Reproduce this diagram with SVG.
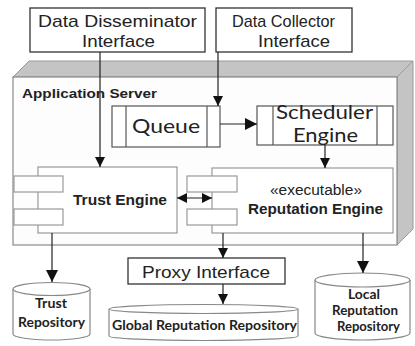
<svg xmlns="http://www.w3.org/2000/svg" width="415" height="346" viewBox="0 0 415 346">
  <defs>
    <marker id="arrow" viewBox="0 0 10 10" refX="10" refY="5" markerWidth="10" markerHeight="10" markerUnits="userSpaceOnUse" orient="auto-start-reverse">
      <path d="M0,0 L10,5 L0,10 z" fill="#111"/>
    </marker>
    <marker id="arrowL" viewBox="0 0 10 10" refX="10" refY="5" markerWidth="13" markerHeight="12" markerUnits="userSpaceOnUse" orient="auto-start-reverse">
      <path d="M0,0 L10,5 L0,10 z" fill="#111"/>
    </marker>
    <style>
      .iface { fill: #fff; stroke: #333; stroke-width: 1.3; }
      .face { fill: #c4c4c4; stroke: #9a9a9a; stroke-width: 1; }
      .front { fill: #fdfdfd; stroke: #8a8a8a; stroke-width: 1.2; }
      .queue { fill: #fff; stroke: #555; stroke-width: 1.2; }
      .comp { fill: #fff; stroke: #999; stroke-width: 1.2; }
      .cyl { fill: #fff; stroke: #888; stroke-width: 1.2; }
      .wire { fill: none; stroke: #222; stroke-width: 1.2; }
      .sans { font-family: "Liberation Sans", Arial, sans-serif; fill: #222; }
      .bold { font-family: "Liberation Sans", Arial, sans-serif; font-weight: bold; fill: #222; }
      .cal { font-family: Lato, "Open Sans", sans-serif; fill: #222; }
      .calb { font-family: Lato, "Open Sans", sans-serif; font-weight: bold; fill: #222; }
    </style>
  </defs>

  <!-- application server node (3D box) -->
  <g id="application-server">
    <polygon class="face" points="13,77 29,61 413,61 397,77"/>
    <polygon class="face" points="397,77 413,61 413,229 397,245"/>
    <rect class="front" x="13" y="77" width="384" height="168"/>
    <text class="bold" x="22" y="98" font-size="13" textLength="135" lengthAdjust="spacingAndGlyphs">Application Server</text>
  </g>

  <g id="data-disseminator-interface">
    <rect class="iface" x="30" y="8" width="175" height="44"/>
    <text class="sans" x="38" y="27" font-size="17" textLength="159" lengthAdjust="spacingAndGlyphs">Data Disseminator</text>
    <text class="sans" x="82" y="47" font-size="17" textLength="73" lengthAdjust="spacingAndGlyphs">Interface</text>
  </g>

  <g id="data-collector-interface">
    <rect class="iface" x="216" y="8" width="136" height="44"/>
    <text class="sans" x="232" y="27" font-size="17" textLength="103" lengthAdjust="spacingAndGlyphs">Data Collector</text>
    <text class="sans" x="258" y="47" font-size="17" textLength="72" lengthAdjust="spacingAndGlyphs">Interface</text>
  </g>

  <g id="queue">
    <rect class="queue" x="112" y="106" width="108" height="41"/>
    <line class="queue" x1="126" y1="106" x2="126" y2="147"/>
    <line class="queue" x1="207" y1="106" x2="207" y2="147"/>
    <text class="cal" x="132" y="133" font-size="20" textLength="68" lengthAdjust="spacingAndGlyphs">Queue</text>
  </g>

  <g id="scheduler-engine">
    <rect class="queue" x="257" y="106" width="136" height="39"/>
    <line class="queue" x1="273" y1="106" x2="273" y2="145"/>
    <line class="queue" x1="377" y1="106" x2="377" y2="145"/>
    <text class="cal" x="276" y="119" font-size="19" textLength="97" lengthAdjust="spacingAndGlyphs">Scheduler</text>
    <text class="cal" x="293" y="142" font-size="19" textLength="65" lengthAdjust="spacingAndGlyphs">Engine</text>
  </g>

  <g id="trust-engine">
    <rect class="comp" x="38" y="167" width="139" height="66"/>
    <rect class="comp" x="14" y="176" width="49" height="16"/>
    <rect class="comp" x="14" y="209" width="49" height="16"/>
    <text class="bold" x="73" y="205" font-size="15" textLength="94" lengthAdjust="spacingAndGlyphs">Trust Engine</text>
  </g>

  <g id="reputation-engine">
    <rect class="comp" x="212" y="168" width="181" height="65"/>
    <rect class="comp" x="187" y="176" width="50" height="16"/>
    <rect class="comp" x="187" y="209" width="50" height="16"/>
    <text class="sans" x="270" y="195" font-size="14" textLength="92" lengthAdjust="spacingAndGlyphs">«executable»</text>
    <text class="bold" x="248" y="214" font-size="15" textLength="135" lengthAdjust="spacingAndGlyphs">Reputation Engine</text>
  </g>

  <g id="proxy-interface">
    <rect class="iface" x="128" y="258" width="157" height="26"/>
    <text class="sans" x="142" y="278" font-size="17" textLength="128" lengthAdjust="spacingAndGlyphs">Proxy Interface</text>
  </g>

  <g id="trust-repository">
    <path class="cyl" d="M13,289 L13,334 A38.5,6 0 0 0 90,334 L90,289"/>
    <ellipse class="cyl" cx="51.5" cy="289" rx="38.5" ry="6.5"/>
    <text class="calb" x="35" y="308" font-size="14" textLength="32" lengthAdjust="spacingAndGlyphs">Trust</text>
    <text class="calb" x="18" y="327" font-size="14" textLength="67" lengthAdjust="spacingAndGlyphs">Repository</text>
  </g>

  <g id="global-reputation-repository">
    <path class="cyl" d="M109,309 L109,336 A94.5,4.5 0 0 0 298,336 L298,309"/>
    <ellipse class="cyl" cx="203.5" cy="309" rx="94.5" ry="4.5"/>
    <text class="calb" x="112" y="330" font-size="14" textLength="185" lengthAdjust="spacingAndGlyphs">Global Reputation Repository</text>
  </g>

  <g id="local-reputation-repository">
    <path class="cyl" d="M315,280 L315,333 A47.5,7 0 0 0 410,333 L410,280"/>
    <ellipse class="cyl" cx="362.5" cy="280" rx="47.5" ry="7"/>
    <text class="calb" x="348" y="299" font-size="13" textLength="32" lengthAdjust="spacingAndGlyphs">Local</text>
    <text class="calb" x="332" y="315" font-size="13" textLength="66" lengthAdjust="spacingAndGlyphs">Reputation</text>
    <text class="calb" x="337" y="331" font-size="13" textLength="63" lengthAdjust="spacingAndGlyphs">Repository</text>
  </g>

  <g id="connectors">
    <line class="wire" x1="100" y1="52" x2="100" y2="167" marker-end="url(#arrow)"/>
    <line class="wire" x1="218" y1="52" x2="218" y2="106" marker-end="url(#arrow)"/>
    <line class="wire" x1="220" y1="124" x2="257" y2="124" marker-end="url(#arrowL)"/>
    <line class="wire" x1="325" y1="145" x2="325" y2="168" marker-end="url(#arrow)"/>
    <line class="wire" x1="177" y1="198" x2="212" y2="198" marker-start="url(#arrow)" marker-end="url(#arrow)"/>
    <line class="wire" x1="52" y1="233" x2="52" y2="282" marker-end="url(#arrowL)"/>
    <line class="wire" x1="223" y1="233" x2="223" y2="258" marker-end="url(#arrow)"/>
    <line class="wire" x1="223" y1="284" x2="223" y2="304" marker-end="url(#arrow)"/>
    <line class="wire" x1="363" y1="233" x2="363" y2="273" marker-end="url(#arrowL)"/>
  </g>
</svg>
